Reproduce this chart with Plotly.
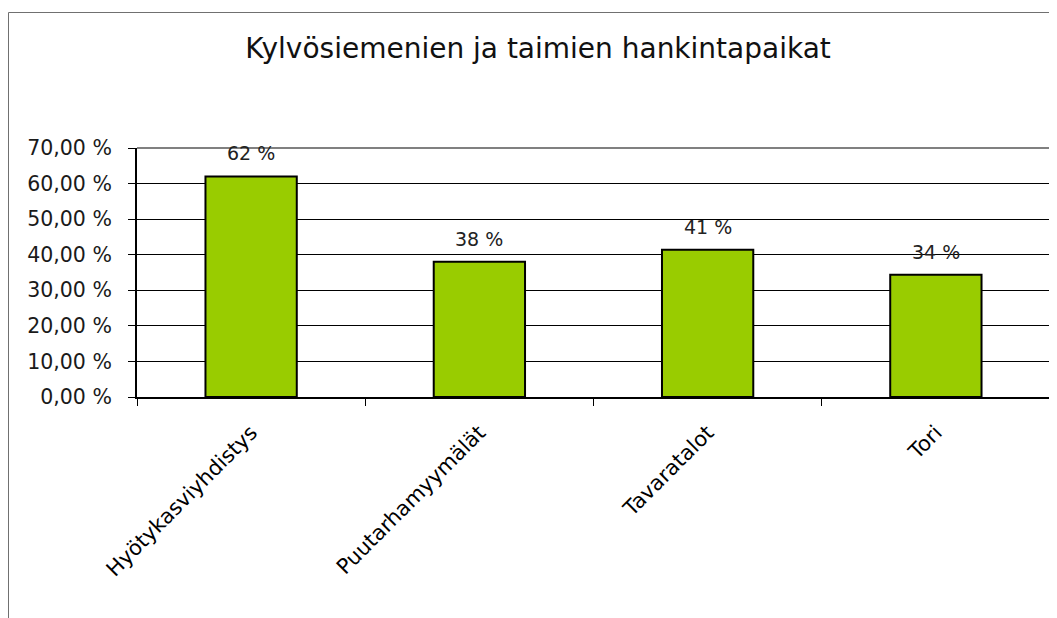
import plotly.graph_objects as go

categories = ["Hyötykasviyhdistys", "Puutarhamyymälät", "Tavaratalot", "Tori"]
values = [0.62, 0.38, 0.414, 0.344]
bar_labels = ["62 %", "38 %", "41 %", "34 %"]
y_tickvals = [0, 0.1, 0.2, 0.3, 0.4, 0.5, 0.6, 0.7]
y_ticktext = ["0,00 %", "10,00 %", "20,00 %", "30,00 %", "40,00 %", "50,00 %", "60,00 %", "70,00 %"]
title_text = "Kylvösiemenien ja taimien hankintapaikat"

# the page body has an 8px margin, so the figure is drawn 8px smaller
W, H = 1049, 610
L, R, T, B = 129, 7, 140, 221
pw, ph = W - L - R, H - T - B

def px_x(p):
    return (p - L) / pw

def px_y(p):
    return (H - B - p) / ph

fig = go.Figure()
fig.add_trace(go.Bar(
    x=categories, y=values, width=0.4,
    marker=dict(color="#99CC00", line=dict(color="black", width=2)),
    hoverinfo="skip",
))

for c, v, t in zip(categories, values, bar_labels):
    fig.add_annotation(x=c, y=v, text=t, showarrow=False, yanchor="bottom",
                       yshift=10, font=dict(family="DejaVu Sans", size=19, color="#222"))

shapes = [
    # plot area top and right border (grey)
    dict(type="line", xref="paper", yref="paper", x0=0, x1=1, y0=1, y1=1,
         line=dict(color="#808080", width=2)),
    dict(type="line", xref="paper", yref="paper", x0=1, x1=1, y0=0, y1=1,
         line=dict(color="#808080", width=2)),
    # outer chart border (cropped)
    dict(type="line", xref="paper", yref="paper", x0=px_x(0.5), x1=px_x(W + 5),
         y0=px_y(4.5), y1=px_y(4.5), line=dict(color="#707070", width=1)),
    dict(type="line", xref="paper", yref="paper", x0=px_x(0.5), x1=px_x(0.5),
         y0=px_y(4.5), y1=px_y(H + 5), line=dict(color="#707070", width=1)),
]

fig.update_layout(
    width=W, height=H,
    margin=dict(l=L, r=R, t=T, b=B, autoexpand=False),
    paper_bgcolor="white", plot_bgcolor="white",
    showlegend=False,
    shapes=shapes,
    title=dict(text=title_text, x=530 / W, xref="container", xanchor="center",
               y=1 - 40 / H, yref="container", yanchor="middle",
               font=dict(family="DejaVu Sans", size=28, color="#111")),
    font=dict(family="DejaVu Sans", color="#111"),
)

fig.update_yaxes(
    range=[0, 0.7], tickvals=y_tickvals, ticktext=y_ticktext,
    showgrid=True, gridcolor="black", gridwidth=1,
    showline=True, linecolor="black", linewidth=2,
    ticks="outside", ticklen=7, tickcolor="black", tickwidth=1,
    ticklabelstandoff=12,
    tickfont=dict(family="DejaVu Sans", size=20.5, color="#1a1a1a"),
    zeroline=False, fixedrange=True,
)
fig.update_xaxes(
    showline=True, linecolor="black", linewidth=2,
    ticks="outside", ticklen=7, tickcolor="black", tickwidth=1,
    tickson="boundaries", tickangle=-45,
    ticklabelstandoff=13,
    tickfont=dict(family="DejaVu Sans", size=21, color="#000"),
    showgrid=False, fixedrange=True,
)

fig.write_html("out.html")
